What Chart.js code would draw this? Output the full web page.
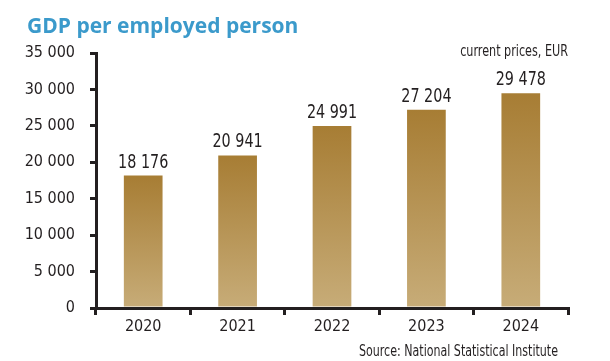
<!DOCTYPE html>
<html>
<head>
<meta charset="utf-8">
<script src="https://cdn.jsdelivr.net/npm/chart.js@4.4.1/dist/chart.umd.min.js"></script>
<style>
  html, body { margin: 0; padding: 0; background: #fff; }
  #wrap { width: 610px; height: 361px; position: relative; }
</style>
</head>
<body>
<div id="wrap"><canvas id="gdpChart"></canvas></div>
<script>
// chart data
const years = ['2020', '2021', '2022', '2023', '2024'];
const gdpPerEmployed = [18176, 20941, 24991, 27204, 29478];
const yTicks = [0, 5000, 10000, 15000, 20000, 25000, 30000, 35000];

const titleText = 'GDP per employed person';
const unitText = 'current prices, EUR';
const sourceText = 'Source: National Statistical Institute';

const narrow = '"Liberation Sans Narrow", "DejaVu Sans Condensed", sans-serif';
const ink = '#231f20';

const fmt = v => String(v).replace(/\B(?=(\d{3})+(?!\d))/g, ' ');

// gradient per bar: dark gold on top, light at the base
function barFill(ctx) {
  const chart = ctx.chart;
  const y = chart.scales.y;
  if (!chart.chartArea || !y || ctx.raw == null) return '#b8945a';
  const top = y.getPixelForValue(ctx.raw);
  const base = y.getPixelForValue(0);
  const g = chart.ctx.createLinearGradient(0, top, 0, base);
  g.addColorStop(0, '#a77d34');
  g.addColorStop(1, '#c7ac78');
  return g;
}

// squeezed text, the original uses a condensed face
function narrowText(ctx, text, x, y, sx) {
  ctx.save();
  ctx.translate(x, y);
  ctx.scale(sx, 1);
  ctx.fillText(text, 0, 0);
  ctx.restore();
}

const textPlugin = {
  id: 'texts',
  afterDatasetsDraw(chart) {
    const ctx = chart.ctx;
    const meta = chart.getDatasetMeta(0);
    ctx.save();
    ctx.fillStyle = ink;
    ctx.textAlign = 'center';
    ctx.textBaseline = 'alphabetic';
    ctx.font = '19px ' + narrow;
    meta.data.forEach((bar, i) => {
      narrowText(ctx, fmt(gdpPerEmployed[i]), bar.x, bar.y - 8, 0.84);
    });
    ctx.restore();
  },
  afterDraw(chart) {
    const ctx = chart.ctx;
    ctx.save();
    ctx.textBaseline = 'alphabetic';
    ctx.fillStyle = '#3b9acb';
    ctx.textAlign = 'left';
    ctx.font = 'bold 21px "Open Sans", sans-serif';
    ctx.fillText(titleText, 27, 33);

    ctx.fillStyle = ink;
    ctx.textAlign = 'right';
    ctx.font = '15px ' + narrow;
    narrowText(ctx, unitText, 568, 56, 0.83);
    narrowText(ctx, sourceText, 558, 356, 0.82);
    ctx.restore();
  }
};

new Chart(document.getElementById('gdpChart'), {
  type: 'bar',
  data: {
    labels: years,
    datasets: [{
      data: gdpPerEmployed,
      backgroundColor: barFill,
      borderWidth: 0,
      categoryPercentage: 1,
      barPercentage: 0.41
    }]
  },
  options: {
    responsive: true,
    maintainAspectRatio: false,
    animation: false,
    layout: { padding: { top: 53, right: 42, bottom: 23, left: 0 } },
    plugins: { legend: { display: false }, tooltip: { enabled: false } },
    scales: {
      x: {
        offset: true,
        grid: {
          display: true,
          offset: true,
          drawOnChartArea: false,
          drawTicks: true,
          tickLength: 7,
          tickColor: ink,
          lineWidth: 3
        },
        border: { display: true, color: ink, width: 3 },
        ticks: { color: ink, font: { family: narrow, size: 16 }, padding: 2 },
        afterFit: s => { s.height = 30; }
      },
      y: {
        min: 0,
        max: 35000,
        afterBuildTicks: s => { s.ticks = yTicks.map(v => ({ value: v })); },
        grid: {
          display: true,
          drawOnChartArea: false,
          drawTicks: true,
          tickLength: 6,
          tickColor: ink,
          lineWidth: 3
        },
        border: { display: true, color: ink, width: 3 },
        ticks: {
          color: ink,
          font: { family: narrow, size: 16 },
          padding: 15,
          callback: v => fmt(v)
        },
        afterFit: s => { s.width = 96; }
      }
    }
  },
  plugins: [textPlugin]
});
</script>
</body>
</html>
